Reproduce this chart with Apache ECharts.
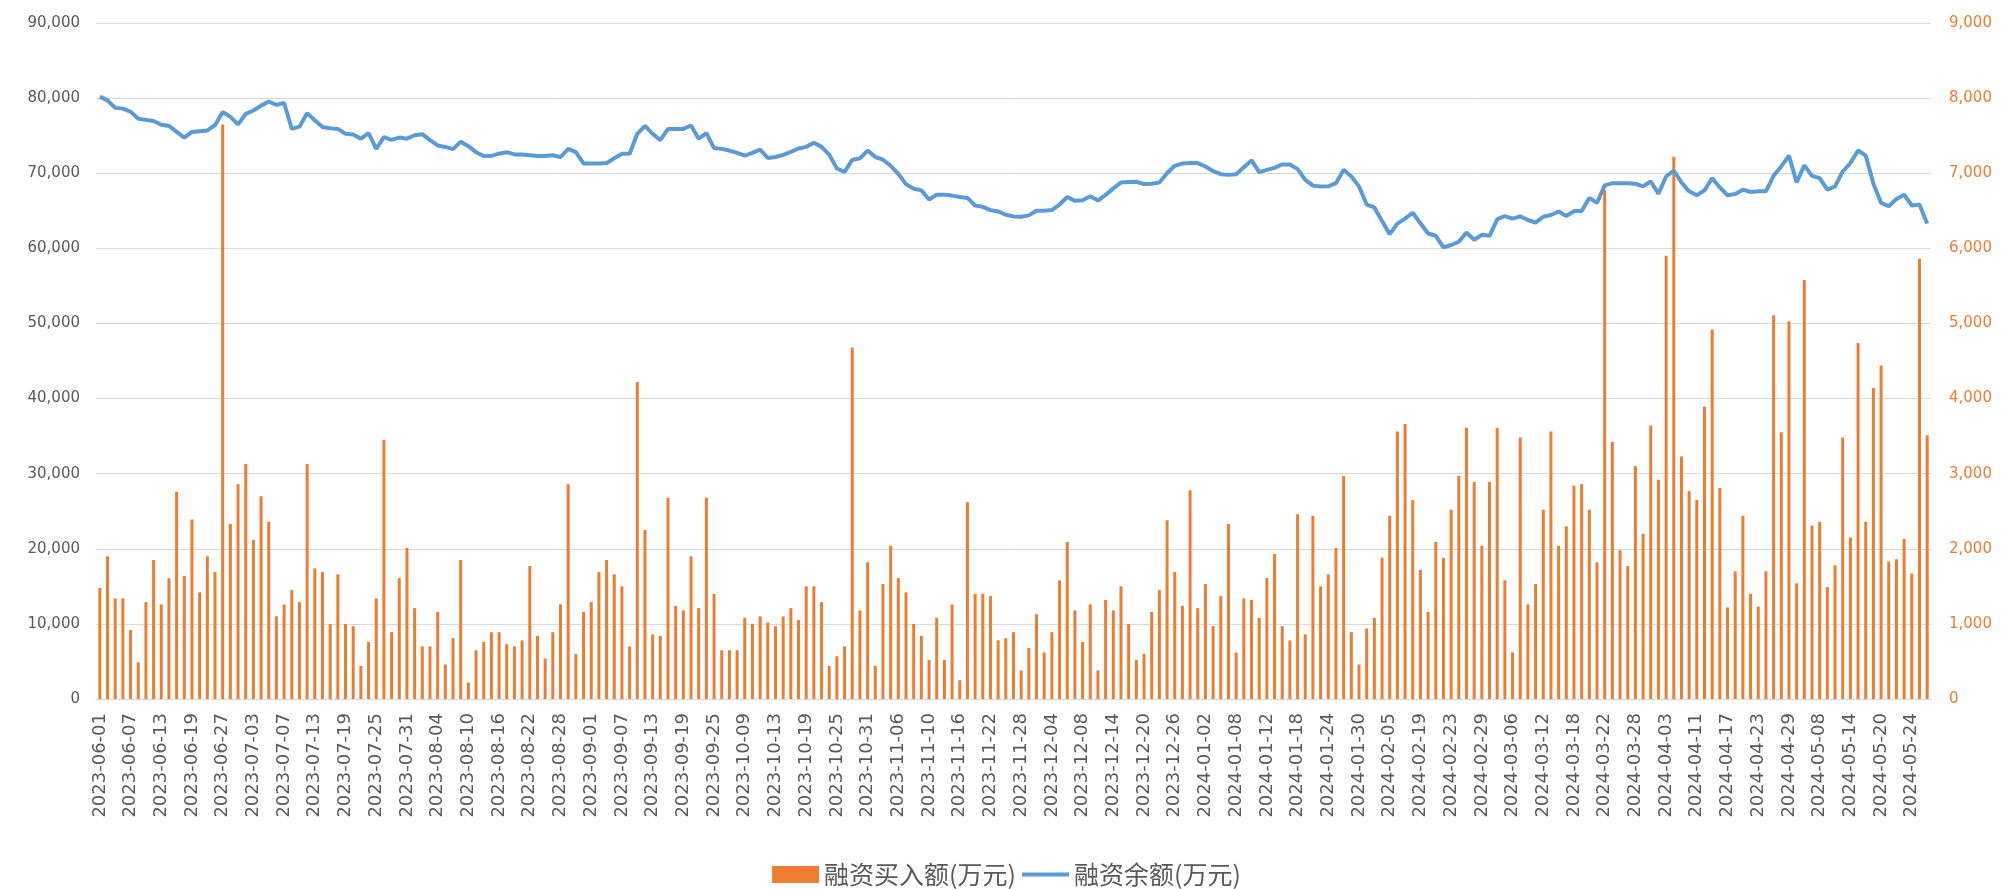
<!DOCTYPE html>
<html>
<head>
<meta charset="utf-8">
<title>融资买入额与融资余额</title>
<script src="https://cdn.jsdelivr.net/npm/echarts@6/dist/echarts.min.js"></script>
<style>
  html, body { margin: 0; padding: 0; background: #fff; }
  #chart { width: 2013px; height: 889px; }
</style>
</head>
<body>
<div id="chart"></div>
<script>
// Trading days 2023-06-01 .. 2024-05-28 (weekdays minus exchange holidays)
const startDay = '2023-06-01';
const endDay = '2024-05-28';
const holidays = [
  '2023-06-22', '2023-06-23',
  '2023-09-29', '2023-10-02', '2023-10-03', '2023-10-04', '2023-10-05', '2023-10-06',
  '2024-01-01',
  '2024-02-09', '2024-02-12', '2024-02-13', '2024-02-14', '2024-02-15', '2024-02-16',
  '2024-04-04', '2024-04-05',
  '2024-05-01', '2024-05-02', '2024-05-03'
];

// 融资买入额(万元) - right axis
const buyAmount = [
  1480, 1900, 1340, 1340, 920, 490, 1290, 1850, 1260, 1610,
  2760, 1640, 2390, 1420, 1900, 1690, 7650, 2330, 2860, 3130,
  2120, 2700, 2360, 1100, 1260, 1450, 1290, 3130, 1740, 1690,
  1000, 1660, 1000, 970, 440, 760, 1340, 3450, 890, 1610,
  2010, 1210, 700, 700, 1160, 460, 810, 1850, 220, 650,
  760, 890, 890, 730, 700, 780, 1770, 840, 540, 890,
  1260, 2860, 600, 1160, 1290, 1690, 1850, 1660, 1500, 700,
  4220, 2250, 860, 840, 2680, 1240, 1180, 1900, 1210, 2680,
  1400, 650, 650, 650, 1080, 1000, 1100, 1020, 970, 1100,
  1210, 1050, 1500, 1500, 1290, 440, 570, 700, 4680, 1180,
  1820, 440, 1530, 2040, 1610, 1420, 1000, 840, 520, 1080,
  520, 1260, 250, 2620, 1400, 1400, 1370, 780, 810, 890,
  380, 680, 1130, 620, 890, 1580, 2090, 1180, 760, 1260,
  380, 1320, 1180, 1500, 1000, 520, 600, 1160, 1450, 2380,
  1690, 1240, 2780, 1210, 1530, 970, 1370, 2330, 620, 1340,
  1320, 1080, 1610, 1930, 970, 780, 2460, 860, 2440, 1500,
  1660, 2010, 2970, 890, 460, 940, 1080, 1880, 2440, 3560,
  3660, 2650, 1720, 1160, 2090, 1880, 2520, 2970, 3610, 2890,
  2040, 2890, 3610, 1580, 620, 3480, 1260, 1530, 2520, 3560,
  2040, 2300, 2840, 2860, 2520, 1820, 6780, 3420, 1980, 1770,
  3100, 2200, 3640, 2920, 5900, 7220, 3230, 2770, 2650, 3890,
  4920, 2810, 1220, 1700, 2440, 1400, 1230, 1700, 5110, 3550,
  5030, 1540, 5580, 2310, 2360, 1490, 1780, 3480, 2150, 4740,
  2360, 4140, 4440, 1830, 1860, 2130, 1670, 5860, 3510
];

// 融资余额(万元) - left axis
const balance = [
  80200, 79700, 78700, 78600, 78200, 77250, 77100, 76950, 76450, 76300,
  75500, 74750, 75500, 75600, 75700, 76400, 78150, 77500, 76500, 77900,
  78350, 79000, 79550, 79100, 79350, 75900, 76200, 78000, 77050, 76150,
  76000, 75900, 75250, 75150, 74600, 75350, 73250, 74800, 74450, 74750,
  74600, 75050, 75200, 74400, 73700, 73500, 73200, 74200, 73600, 72800,
  72300, 72300, 72600, 72800, 72500, 72500, 72400, 72300, 72300, 72400,
  72150, 73250, 72800, 71300, 71300, 71300, 71350, 72000, 72600, 72600,
  75250, 76300, 75250, 74400, 75900, 75900, 75900, 76350, 74600, 75350,
  73350, 73240, 73020, 72700, 72340, 72700, 73150, 72030, 72160, 72430,
  72840, 73290, 73510, 74050, 73510, 72480, 70630, 70180, 71800, 71980,
  73020, 72160, 71800, 70990, 69910, 68550, 67940, 67720, 66490, 67150,
  67150, 67020, 66840, 66710, 65700, 65530, 65090, 64910, 64470, 64250,
  64210, 64390, 65000, 65000, 65090, 65830, 66840, 66320, 66400, 66930,
  66360, 67110, 67980, 68770, 68820, 68860, 68550, 68600, 68770, 70000,
  70990, 71310, 71350, 71350, 70900, 70270, 69870, 69780, 69870, 70810,
  71710, 70140, 70450, 70720, 71170, 71170, 70540, 69120, 68350, 68220,
  68250, 68680, 70450, 69560, 68250, 65830, 65440, 63640, 61890, 63290,
  63950, 64740, 63330, 61970, 61670, 60130, 60440, 60880, 62110, 61140,
  61800, 61670, 63860, 64300, 63950, 64250, 63770, 63420, 64210, 64430,
  64910, 64300, 64960, 64960, 66710, 66050, 68380, 68680, 68680, 68680,
  68600, 68250, 68900, 67280, 69560, 70360, 68770, 67590, 67060, 67720,
  69340, 68110, 67060, 67240, 67810, 67500, 67590, 67590, 69650, 70900,
  72340, 68770, 71040, 69650, 69340, 67810, 68250, 70230, 71350, 73020,
  72340, 68600, 66050, 65610, 66580, 67150, 65700, 65830, 63290
];

function buildTradingDays(from, to, closed) {
  const out = [];
  const d = new Date(from + 'T00:00:00Z');
  const last = new Date(to + 'T00:00:00Z');
  while (d <= last) {
    const s = d.toISOString().slice(0, 10);
    const wd = d.getUTCDay();
    if (wd !== 0 && wd !== 6 && closed.indexOf(s) < 0) out.push(s);
    d.setUTCDate(d.getUTCDate() + 1);
  }
  return out;
}

const dates = buildTradingDays(startDay, endDay, holidays);

const gray = '#595959';
const gridColor = '#D9D9D9';
const orange = '#ED7D31';
const blue = '#5B9BD5';
const numFmt = v => v.toLocaleString('en-US');

const chart = echarts.init(document.getElementById('chart'));

chart.setOption({
  animation: false,
  backgroundColor: '#fff',
  grid: { left: 96, right: 82, top: 23, bottom: 190 },
  legend: {
    top: 857,
    left: 'center',
    itemGap: 6,
    itemWidth: 47,
    itemHeight: 17,
    textStyle: { color: gray, fontSize: 25, fontFamily: 'Noto Sans CJK SC' },
    data: [
      { name: '融资买入额(万元)', icon: 'rect' },
      // plain horizontal stroke for the balance line
      { name: '融资余额(万元)', icon: 'path://M0,0L47,0L47,4L0,4Z' }
    ]
  },
  xAxis: {
    type: 'category',
    data: dates,
    boundaryGap: true,
    axisLine: { lineStyle: { color: gridColor, width: 1 } },
    axisTick: { show: false },
    axisLabel: {
      interval: 3,
      rotate: 90,
      margin: 14,
      color: gray,
      fontSize: 18,
      fontFamily: 'DejaVu Sans'
    }
  },
  yAxis: [
    {
      type: 'value',
      min: 0,
      max: 90000,
      interval: 10000,
      axisLine: { show: false },
      axisTick: { show: false },
      splitLine: { lineStyle: { color: gridColor, width: 1 } },
      axisLabel: { color: gray, fontSize: 15, margin: 16, fontFamily: 'DejaVu Sans', formatter: numFmt }
    },
    {
      type: 'value',
      min: 0,
      max: 9000,
      interval: 1000,
      axisLine: { show: false },
      axisTick: { show: false },
      splitLine: { show: false },
      axisLabel: { color: orange, fontSize: 15, margin: 18, fontFamily: 'DejaVu Sans', formatter: numFmt }
    }
  ],
  series: [
    {
      name: '融资买入额(万元)',
      type: 'bar',
      yAxisIndex: 1,
      data: buyAmount,
      barWidth: 3,
      itemStyle: { color: orange }
    },
    {
      name: '融资余额(万元)',
      type: 'line',
      yAxisIndex: 0,
      data: balance,
      symbol: 'none',
      lineStyle: { color: blue, width: 4 },
      itemStyle: { color: blue }
    }
  ]
});
</script>
</body>
</html>
